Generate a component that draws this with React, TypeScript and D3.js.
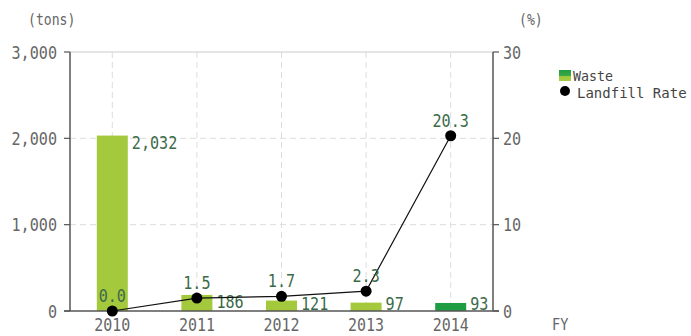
import React from "react";
import * as d3 from "d3";

const categories = ["2010", "2011", "2012", "2013", "2014"];
const waste = [2032, 186, 121, 97, 93];
const wasteLabels = ["2,032", "186", "121", "97", "93"];
const landfillRate = [0.0, 1.5, 1.7, 2.3, 20.3];
const rateLabels = ["0.0", "1.5", "1.7", "2.3", "20.3"];
const leftTicks = [0, 1000, 2000, 3000];
const rightTicks = [0, 10, 20, 30];

const W = 691;
const H = 336;
const FONT = "'DejaVu Sans Mono', 'Liberation Mono', monospace";

type TProps = {
  x: number;
  y: number;
  anchor?: "start" | "middle" | "end";
  size?: number;
  sx?: number;
  fill?: string;
  weight?: number | string;
  children: React.ReactNode;
};
function T({ x, y, anchor = "start", size = 18, sx = 0.84, fill = "#666", weight = "normal", children }: TProps) {
  return (
    <text
      transform={`translate(${x},${y}) scale(${sx},1)`}
      textAnchor={anchor}
      fontFamily={FONT}
      fontSize={size}
      fill={fill}
      fontWeight={weight}
    >
      {children}
    </text>
  );
}

export default function App() {
  const left = 70;
  const right = 493;
  const top = 52;
  const bottom = 311;

  const x = d3.scaleBand<string>().domain(categories).range([left, right]).paddingInner(0).paddingOuter(0);
  const yL = d3.scaleLinear().domain([0, 3000]).range([bottom, top]);
  const yR = d3.scaleLinear().domain([0, 30]).range([bottom, top]);
  const barW = 31;
  const cx = (c: string) => (x(c) as number) + x.bandwidth() / 2;

  const line = d3
    .line<number>()
    .x((_, i) => cx(categories[i]))
    .y((d) => yR(d));

  const labelGreen = "#3b6a48";

  return (
    <svg width={W} height={H} style={{ position: "absolute", left: 0, top: 0 }}>
      <defs>
        <linearGradient id="lg" x1="0" y1="0" x2="0" y2="1">
          <stop offset="0" stopColor="#1f9d42" />
          <stop offset="0.5" stopColor="#3aa845" />
          <stop offset="0.55" stopColor="#9cc83e" />
          <stop offset="1" stopColor="#a8cd44" />
        </linearGradient>
      </defs>
      <rect width={W} height={H} fill="#fff" />

      {/* gridlines */}
      {categories.map((c) => (
        <line key={"vg" + c} x1={cx(c)} x2={cx(c)} y1={top} y2={bottom} stroke="#ddd" strokeDasharray="6,4" />
      ))}
      {leftTicks
        .filter((t) => t > 0 && t < 3000)
        .map((t) => (
          <line key={"hg" + t} x1={left} x2={right} y1={yL(t)} y2={yL(t)} stroke="#ddd" strokeDasharray="6,4" />
        ))}
      <line x1={left} x2={right} y1={yL(3000)} y2={yL(3000)} stroke="#ddd" strokeWidth={1.5} />

      {/* bars */}
      {waste.map((v, i) => (
        <rect
          key={"b" + i}
          x={cx(categories[i]) - barW / 2}
          y={yL(v)}
          width={barW}
          height={bottom - yL(v)}
          fill={i === 4 ? "#1f9d42" : "#a5c93d"}
        />
      ))}

      {/* axes */}
      <line x1={left} x2={left} y1={top} y2={bottom} stroke="#555" strokeWidth={1.5} />
      <line x1={right} x2={right} y1={top} y2={bottom} stroke="#555" strokeWidth={1.5} />
      <line x1={left - 6} x2={right + 6} y1={bottom} y2={bottom} stroke="#555" strokeWidth={1.5} />
      {leftTicks.map((t) => (
        <g key={"lt" + t}>
          <line x1={left - 6} x2={left} y1={yL(t)} y2={yL(t)} stroke="#555" strokeWidth={1.2} />
          <T x={57} y={yL(t) + 6.5} anchor="end">
            {d3.format(",")(t)}
          </T>
        </g>
      ))}
      {rightTicks.map((t) => (
        <g key={"rt" + t}>
          <line x1={right} x2={right + 6} y1={yR(t)} y2={yR(t)} stroke="#555" strokeWidth={1.2} />
          <T x={503} y={yR(t) + 6.5}>
            {String(t)}
          </T>
        </g>
      ))}
      {categories.map((c) => (
        <T key={"xl" + c} x={cx(c)} y={331} size={17} sx={0.88} anchor="middle">
          {c}
        </T>
      ))}
      <T x={28} y={25} size={16} sx={0.82}>
        (tons)
      </T>
      <T x={519} y={25} size={16} sx={0.82}>
        (%)
      </T>
      <T x={552} y={330} size={16} sx={0.85}>
        FY
      </T>

      {/* bar value labels */}
      {waste.map((v, i) => (
        <T
          key={"bl" + i}
          x={cx(categories[i]) + barW / 2 + 4}
          y={Math.min(yL(v) + 13, 310)}
          fill={labelGreen}
        >
          {wasteLabels[i]}
        </T>
      ))}

      {/* line */}
      <path d={line(landfillRate) || ""} fill="none" stroke="#111" strokeWidth={1.2} />
      {landfillRate.map((v, i) => (
        <circle key={"p" + i} cx={cx(categories[i])} cy={yR(v)} r={5.5} fill="#000" />
      ))}
      {landfillRate.map((v, i) => (
        <T key={"pl" + i} x={cx(categories[i])} y={yR(v) - 9} anchor="middle" fill={labelGreen}>
          {rateLabels[i]}
        </T>
      ))}

      {/* legend */}
      <rect x={559} y={70} width={12} height={11} fill="url(#lg)" />
      <T x={573} y={81} size={14} sx={0.95} fill="#444">
        Waste
      </T>
      <circle cx={565} cy={91} r={5} fill="#000" />
      <T x={577} y={97.5} size={14} sx={1.0} fill="#444">
        Landfill Rate
      </T>
    </svg>
  );
}
